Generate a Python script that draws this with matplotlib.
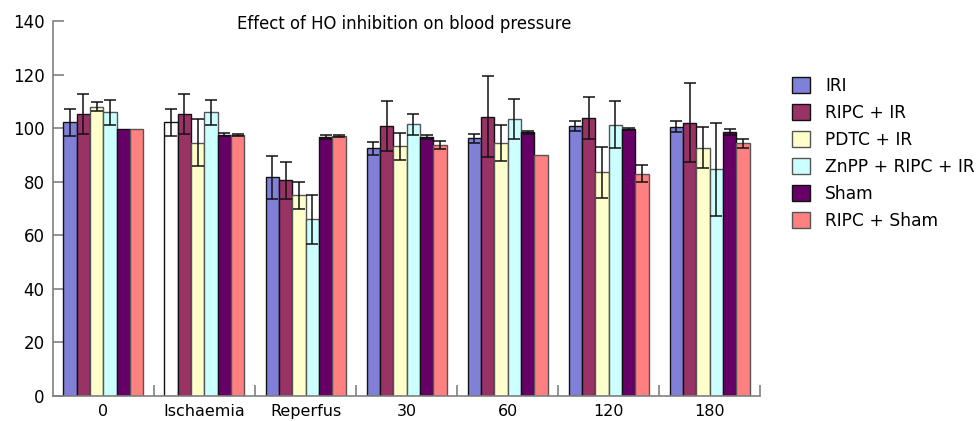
import matplotlib
matplotlib.use("Agg")
import matplotlib.pyplot as plt
import numpy as np

categories = ["0", "Ischaemia", "Reperfus", "30", "60", "120", "180"]
series = ["IRI", "RIPC + IR", "PDTC + IR", "ZnPP + RIPC + IR", "Sham", "RIPC + Sham"]

iri = [102.2, 102.2, 81.6, 92.5, 96.3, 100.8, 100.5]
iri_err = [5.0, 5.0, 8.1, 2.5, 1.7, 1.9, 2.0]
ripc_ir = [105.3, 105.3, 80.5, 100.8, 104.3, 103.8, 102.0]
ripc_ir_err = [7.5, 7.5, 7.0, 9.2, 15.0, 8.0, 14.7]
pdtc_ir = [108.0, 94.6, 74.9, 93.3, 94.3, 83.6, 92.7]
pdtc_ir_err = [1.7, 8.7, 5.0, 5.0, 6.7, 9.5, 7.7]
znpp = [105.9, 105.9, 66.0, 101.5, 103.4, 101.3, 84.6]
znpp_err = [4.6, 4.6, 9.2, 3.9, 7.5, 8.8, 17.3]
sham = [99.7, 97.6, 96.7, 96.8, 98.4, 99.6, 98.7]
sham_err = [0.0, 0.6, 0.7, 0.7, 0.6, 0.3, 1.1]
ripc_sham = [99.7, 97.6, 97.1, 93.7, 89.8, 83.0, 94.3]
ripc_sham_err = [0.0, 0.4, 0.5, 1.6, 0.0, 3.2, 1.7]

values = [iri, ripc_ir, pdtc_ir, znpp, sham, ripc_sham]
errors = [iri_err, ripc_ir_err, pdtc_ir_err, znpp_err, sham_err, ripc_sham_err]
colors = ["#8080D8", "#993366", "#FFFFCC", "#CCFFFF", "#660066", "#FF8080"]
edges = ["#111111", "#111111", "#555555", "#555555", "#111111", "#555555"]

plt.rcParams['font.family'] = ['DejaVu Sans']
fig = plt.figure(figsize=(9.77, 4.21), dpi=100)
ax = fig.add_axes([0.0542, 0.0594, 0.7238, 0.8906])

x = np.arange(len(categories))
w = 0.132
for i, (vals, errs) in enumerate(zip(values, errors)):
    pos = x + (i - 2.5) * w
    bars = ax.bar(pos, vals, width=w, color=colors[i], edgecolor=edges[i],
                  linewidth=1.0, label=series[i], zorder=2)
    if i == 0:
        bars[1].set_facecolor("white")
    e = np.array(errs)
    mask = e > 0
    ax.errorbar(pos[mask], np.array(vals)[mask], yerr=e[mask], fmt="none",
                ecolor="#111111", elinewidth=1.1, capsize=4, capthick=1.1, zorder=3)

ax.set_xlim(-0.5, 6.5)
ax.set_ylim(0, 140)
ax.set_yticks(np.arange(0, 141, 20))
ax.set_xticks(x)
ax.set_xticklabels(categories)
ax.set_xticks(np.arange(0.5, 6.6, 1), minor=True)
ax.tick_params(axis="x", which="major", length=0, labelsize=11.5, pad=6)
ax.tick_params(axis="x", which="minor", direction="in", length=8, color="#808080", width=1.2)
ax.tick_params(axis="y", direction="in", length=8, color="#808080", width=1.2, labelsize=12, pad=6)
for s in ["top", "right"]:
    ax.spines[s].set_visible(False)
for s in ["left", "bottom"]:
    ax.spines[s].set_color("#808080")
    ax.spines[s].set_linewidth(1.2)

ax.set_title("Effect of HO inhibition on blood pressure", fontsize=11.9, pad=-2, x=0.497, y=0.985)

ax.legend(loc="upper left", bbox_to_anchor=(1.035, 0.87), frameon=False, fontsize=12.3,
          handlelength=1.1, handleheight=1.1, handletextpad=0.85, labelspacing=0.53,
          borderaxespad=0)

fig.savefig("out.png", dpi=100)
